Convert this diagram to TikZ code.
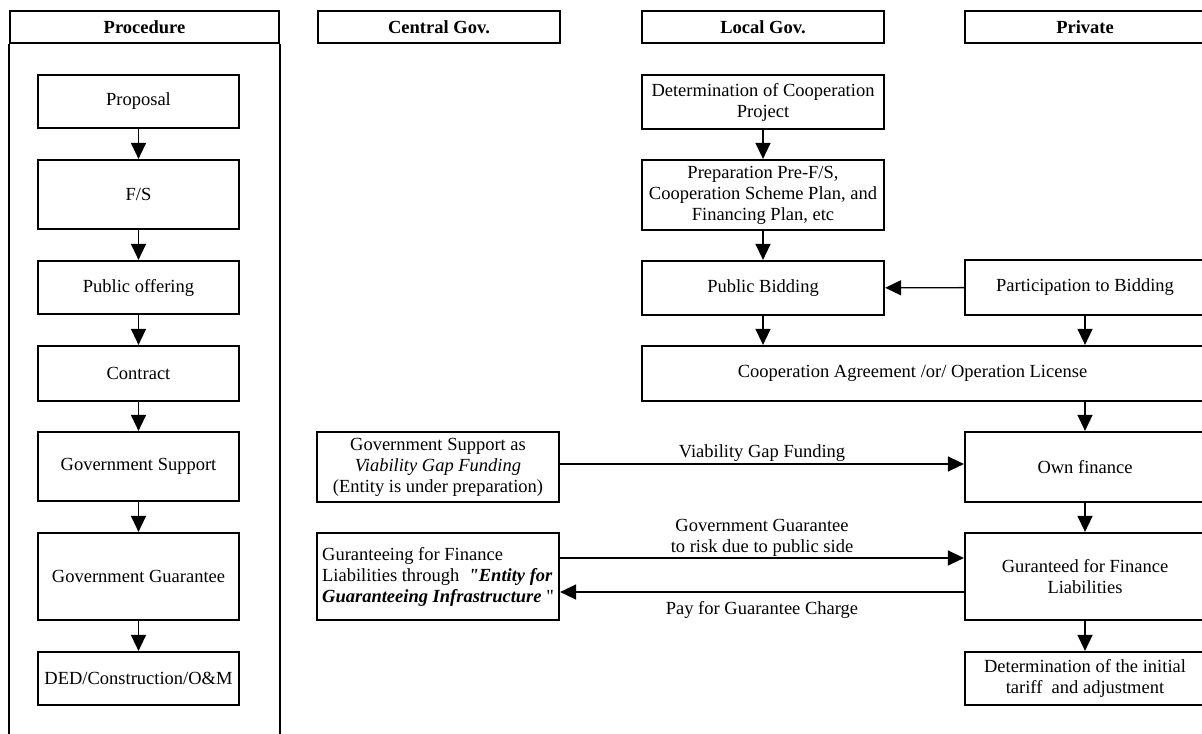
\documentclass[tikz,border=0pt]{standalone}
\usepackage{fontspec}
\setmainfont{Liberation Serif}
\newfontfamily\straightq[Ligatures=ResetAll]{Liberation Serif}
\usetikzlibrary{positioning, arrows.meta}

\begin{document}
\begin{tikzpicture}[
        x=0.5pt, y=-0.5pt,
        font=\fontsize{9.25}{10.5}\selectfont,
        box/.style={draw, line width=1.1pt, minimum width=121pt, inner sep=1.5pt, align=center},
        hdr/.style={box, font=\fontsize{9.25}{10.5}\selectfont\bfseries, minimum height=16pt},
        proc/.style={box, minimum width=100.5pt},
        pvt/.style={box, minimum width=120pt},
        arr/.style={-{Triangle[width=7.5pt, length=8pt]}, line width=0.7pt},
      ]
      \useasboundingbox (0,0) rectangle (1202,733);
      \coordinate (bot) at (0,740);

      % headers
      \node[hdr, minimum width=134.5pt] (hproc) at (144.5,27) {Procedure};
      \node[hdr] (hcen) at (439,27) {Central Gov.};
      \node[hdr] (hloc) at (763,27) {Local Gov.};
      \node[hdr, minimum width=120pt] (hpri) at (1085,27) {Private};
      \draw[line width=1.1pt] (hproc.south west) -- (hproc.south west |- bot);
      \draw[line width=1.1pt] (hproc.south east) -- (hproc.south east |- bot);

      % procedure
      \node[proc, minimum height=26.5pt] (prop) at (138.5,101.5) {Proposal};
      \node[proc, minimum height=34.5pt] (fs)   at (138.5,194.5) {F/S};
      \node[proc, minimum height=26.5pt] (pub)  at (138.5,287.5) {Public offering};
      \node[proc, minimum height=27.5pt] (con)  at (138.5,373.5) {Contract};
      \node[proc, minimum height=34.5pt] (gsup) at (138.5,466.5) {Government Support};
      \node[proc, minimum height=43.5pt] (ggua) at (138.5,576.5) {Government Guarantee};
      \node[proc, minimum height=26.5pt] (ded)  at (138.5,678.5) {DED/Construction/O\&M};

      % local gov.
      \node[box, minimum height=27pt] (det)  at (763,102) {Determination of Cooperation\\Project};
      \node[box, minimum height=35pt] (prep) at (763,195) {Preparation Pre-F/S,\\Cooperation Scheme Plan, and\\Financing Plan, etc};
      \node[box, minimum height=27pt] (bid)  at (763,288) {Public Bidding};
      \node[box, minimum width=281.5pt, minimum height=27.5pt] (coop) at (923.5,373.5)
        {Cooperation Agreement /or/ Operation License\hspace{11pt}};

      % private
      \node[pvt, minimum height=27.5pt] (part) at (1085,287.5) {Participation to Bidding};
      \node[pvt, minimum height=35pt]   (own)  at (1085,467) {Own finance};
      \node[pvt, minimum height=43.5pt] (gfl)  at (1085,576.5) {Guranteed for Finance\\Liabilities};
      \node[pvt, minimum height=26.5pt] (tar)  at (1085,678.5) {Determination of the initial\\tariff~ and adjustment};

      % central gov.
      \node[box, minimum height=35pt] (vgs) at (438,467)
        {Government Support as\\\textit{Viability Gap Funding}\\(Entity is under preparation)};
      \node[box, minimum height=43.5pt, align=left] (egi) at (438,576.5)
        {Guranteeing for Finance\\Liabilities through~ {\straightq\bfseries\itshape"}\textbf{\textit{Entity for}}\\\textbf{\textit{Guaranteeing Infrastructure}} {\straightq"}};

      \draw[arr] (prop) -- (fs);
      \draw[arr] (fs) -- (pub);
      \draw[arr] (pub) -- (con);
      \draw[arr] (con) -- (gsup);
      \draw[arr] (gsup) -- (ggua);
      \draw[arr] (ggua) -- (ded);

      \draw[arr] (det) -- (prep);
      \draw[arr] (prep) -- (bid);
      \draw[arr] (bid) -- (bid |- coop.north);
      \draw[arr] (part) -- (bid);
      \draw[arr] (part) -- (part |- coop.north);
      \draw[arr] (own |- coop.south) -- (own);
      \draw[arr] (own) -- (gfl);
      \draw[arr] (gfl) -- (tar);

      \draw[arr] ([yshift=1.5pt]vgs.east) -- ([yshift=1.5pt]own.west)
        node[midway, above, inner sep=0.8pt] {Viability Gap Funding};
      \draw[arr] ([yshift=9.25pt]egi.east) -- ([yshift=9.25pt]gfl.west)
        node[midway, above, inner sep=0.5pt, align=center] {Government Guarantee\\to risk due to public side};
      \draw[arr] ([yshift=-7.75pt]gfl.west) -- ([yshift=-7.75pt]egi.east)
        node[midway, below, inner sep=4.5pt] {Pay for Guarantee Charge};

    \end{tikzpicture}
\end{document}
